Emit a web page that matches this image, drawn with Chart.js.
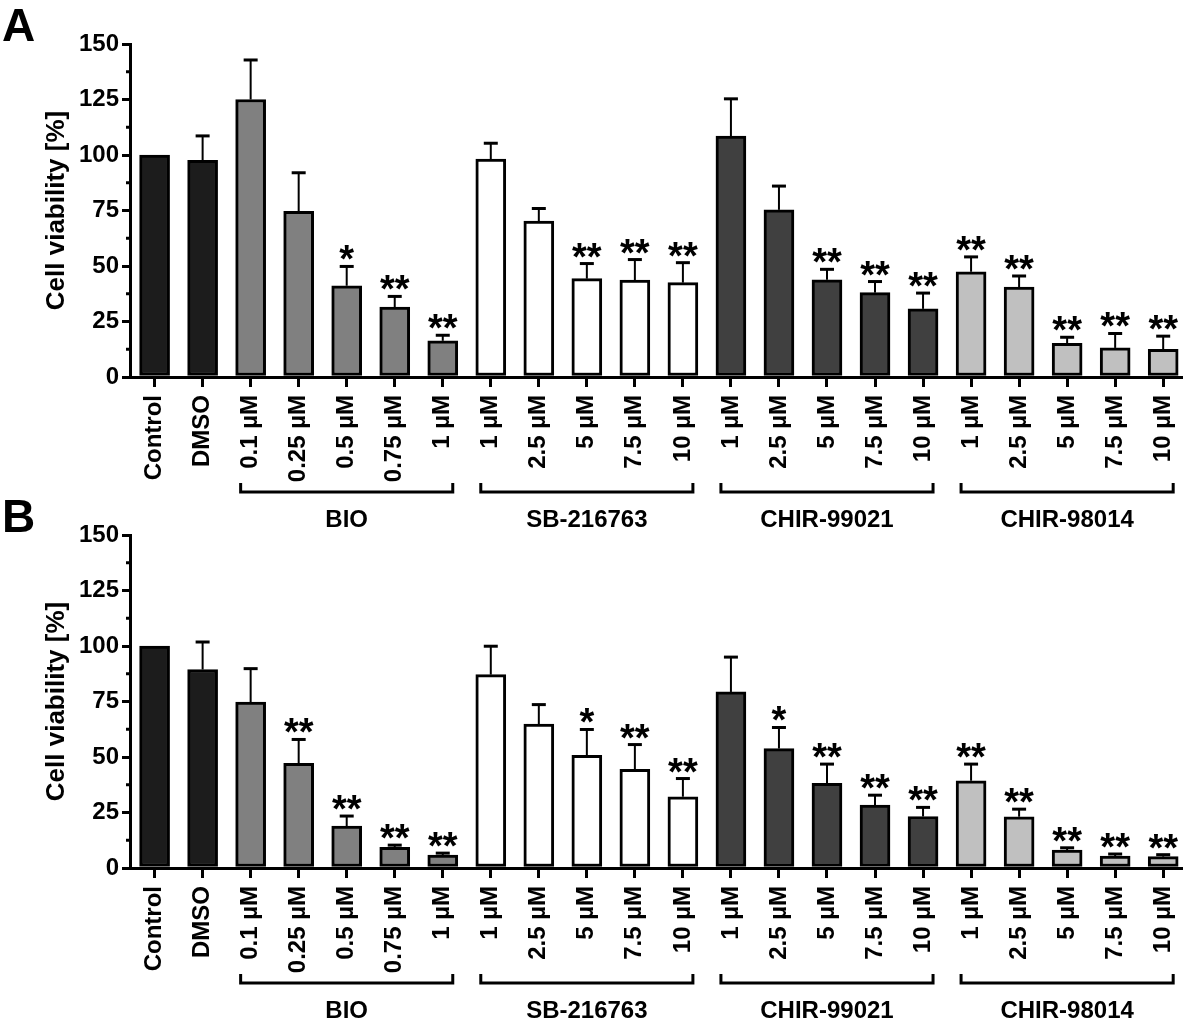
<!DOCTYPE html>
<html>
<head>
<meta charset="utf-8">
<script src="https://cdn.jsdelivr.net/npm/chart.js@4"></script>
<style>
  html, body { margin: 0; padding: 0; background: #fff; }
  #wrap { position: relative; width: 1200px; height: 1020px; }
  canvas { position: absolute; left: 0; }
</style>
</head>
<body>
<div id="wrap">
  <canvas id="panel-a" width="1200" height="530" style="top:0"></canvas>
  <canvas id="panel-b" width="1200" height="529" style="top:491px"></canvas>
</div>
<script>
const categories = ['Control', 'DMSO',
  '0.1 µM', '0.25 µM', '0.5 µM', '0.75 µM', '1 µM',
  '1 µM', '2.5 µM', '5 µM', '7.5 µM', '10 µM',
  '1 µM', '2.5 µM', '5 µM', '7.5 µM', '10 µM',
  '1 µM', '2.5 µM', '5 µM', '7.5 µM', '10 µM'];

const groupNames = ['BIO', 'SB-216763', 'CHIR-99021', 'CHIR-98014'];
const groupFirst = [2, 7, 12, 17];
const groupLast = [6, 11, 16, 21];

const barColors = ['#1c1c1c', '#1c1c1c',
  '#808080', '#808080', '#808080', '#808080', '#808080',
  '#ffffff', '#ffffff', '#ffffff', '#ffffff', '#ffffff',
  '#404040', '#404040', '#404040', '#404040', '#404040',
  '#c0c0c0', '#c0c0c0', '#c0c0c0', '#c0c0c0', '#c0c0c0'];

// panel A
const meanA = [100, 97.6, 125, 74.6, 41.1, 31.5, 16.3, 98.2, 70.2, 44.3, 43.7, 42.5,
  108.5, 75.3, 43.8, 38, 30.7, 47.4, 40.5, 15.2, 13.1, 12.5];
const sdA = [0, 11.0, 17.8, 17.4, 8.7, 4.8, 2.5, 7.1, 5.7, 6.8, 9.2, 9.0,
  16.8, 10.7, 4.7, 5.0, 7.1, 6.7, 5.0, 2.7, 6.5, 5.9];
const sigA = ['', '', '', '', '*', '**', '**', '', '', '**', '**', '**',
  '', '', '**', '**', '**', '**', '**', '**', '**', '**'];

// panel B
const meanB = [100, 89.4, 74.7, 47.1, 18.9, 9.3, 5.8, 87.1, 64.8, 50.8, 44.4, 32.1,
  79.3, 53.8, 38.1, 28.3, 23.2, 39.3, 23.1, 8.1, 5.4, 5.1];
const sdB = [0, 12.4, 15.1, 10.8, 4.5, 1.0, 0.9, 12.8, 8.8, 11.6, 11.2, 8.2,
  15.7, 9.5, 8.7, 4.5, 4.1, 7.5, 3.4, 1.0, 0.9, 0.9];
const sigB = ['', '', '', '**', '**', '**', '**', '', '', '*', '**', '**',
  '', '*', '**', '**', '**', '**', '**', '**', '**', '**'];

const yTicks = [0, 25, 50, 75, 100, 125, 150];

const FONT = "'Liberation Sans', Arial, sans-serif";
Chart.defaults.font.family = FONT;
Chart.defaults.font.weight = 'bold';
Chart.defaults.color = '#000';

// error bars, stars, minor ticks, brackets, panel letter
const extras = {
  id: 'extras',
  afterDatasetsDraw(chart, args, o) {
    const { ctx, scales: { x, y } } = chart;
    ctx.save();
    ctx.strokeStyle = '#000';
    ctx.fillStyle = '#000';
    o.mean.forEach((m, i) => {
      const cx = x.getPixelForValue(i);
      const barTop = y.getPixelForValue(m);
      const top = y.getPixelForValue(m + o.sd[i]);
      if (o.sd[i] > 0) {
        ctx.lineWidth = 2;
        ctx.beginPath(); ctx.moveTo(cx, barTop); ctx.lineTo(cx, top); ctx.stroke();
        ctx.lineWidth = 3;
        ctx.beginPath(); ctx.moveTo(cx - 7, top); ctx.lineTo(cx + 7, top); ctx.stroke();
      }
      if (o.sig[i]) {
        ctx.font = `bold 38px ${FONT}`;
        ctx.textAlign = 'center';
        ctx.textBaseline = 'alphabetic';
        ctx.fillText(o.sig[i], cx, top + 6);
      }
    });
    ctx.restore();
  },
  afterDraw(chart, args, o) {
    const { ctx, chartArea, scales: { x, y } } = chart;
    ctx.save();
    ctx.strokeStyle = '#000';
    ctx.fillStyle = '#000';
    ctx.lineWidth = 3;
    // minor y ticks
    for (let k = 0; k < yTicks.length - 1; k++) {
      const py = y.getPixelForValue((yTicks[k] + yTicks[k + 1]) / 2);
      ctx.beginPath(); ctx.moveTo(chartArea.left - 4, py); ctx.lineTo(chartArea.left, py); ctx.stroke();
    }
    // group brackets
    const base = chartArea.bottom;
    ctx.font = `bold 24px ${FONT}`;
    ctx.textAlign = 'center';
    ctx.textBaseline = 'alphabetic';
    groupNames.forEach((g, k) => {
      const x0 = x.getPixelForValue(groupFirst[k]) - 10;
      const x1 = x.getPixelForValue(groupLast[k]) + 10;
      const by = base + 115;
      ctx.beginPath();
      ctx.moveTo(x0, by - 9); ctx.lineTo(x0, by); ctx.lineTo(x1, by); ctx.lineTo(x1, by - 9);
      ctx.stroke();
      ctx.fillText(g, (x0 + x1) / 2, base + 150);
    });
    // panel letter
    ctx.font = `bold 46px ${FONT}`;
    ctx.textAlign = 'left';
    ctx.fillText(o.letter, 2, 41);
    ctx.restore();
  },
};

function makePanel(id, letter, mean, sd, sig) {
  const canvas = document.getElementById(id);
  const H = canvas.height;
  return new Chart(canvas, {
    type: 'bar',
    data: {
      datasets: [{
        data: mean.map((v, i) => ({ x: i, y: v })),
        backgroundColor: barColors,
        borderColor: '#000',
        borderWidth: 3,
        borderSkipped: false,
        barThickness: 30,
      }],
    },
    options: {
      responsive: false,
      animation: false,
      layout: { padding: { top: 44, left: 0, right: 1, bottom: 0 } },
      plugins: {
        legend: { display: false },
        tooltip: { enabled: false },
        extras: { letter, mean, sd, sig },
      },
      scales: {
        x: {
          type: 'linear',
          min: -0.512,
          max: 21.39,
          offset: false,
          ticks: {
            stepSize: 1, includeBounds: false, autoSkip: false, maxTicksLimit: 40,
            minRotation: 90, maxRotation: 90, padding: 8,
            font: { size: 24, weight: 'bold' }, color: '#000',
            callback: (v) => categories[v] ?? '',
          },
          grid: { offset: false, drawOnChartArea: false, tickLength: 10, lineWidth: 3, color: '#000' },
          border: { width: 3, color: '#000' },
          afterFit: (s) => { s.height = H - 377; },
        },
        y: {
          min: 0,
          max: 150,
          ticks: { stepSize: 25, padding: 3, font: { size: 24, weight: 'bold' }, color: '#000' },
          grid: { drawOnChartArea: false, tickLength: 8, lineWidth: 3, color: '#000' },
          border: { width: 3, color: '#000' },
          title: {
            display: true, text: 'Cell viability [%]', color: '#000',
            font: { size: 26, weight: 'bold' }, padding: { top: 41, bottom: 0 },
          },
          afterFit: (s) => { s.width = 130; },
        },
      },
    },
    plugins: [extras],
  });
}

makePanel('panel-a', 'A', meanA, sdA, sigA);
makePanel('panel-b', 'B', meanB, sdB, sigB);
</script>
</body>
</html>
